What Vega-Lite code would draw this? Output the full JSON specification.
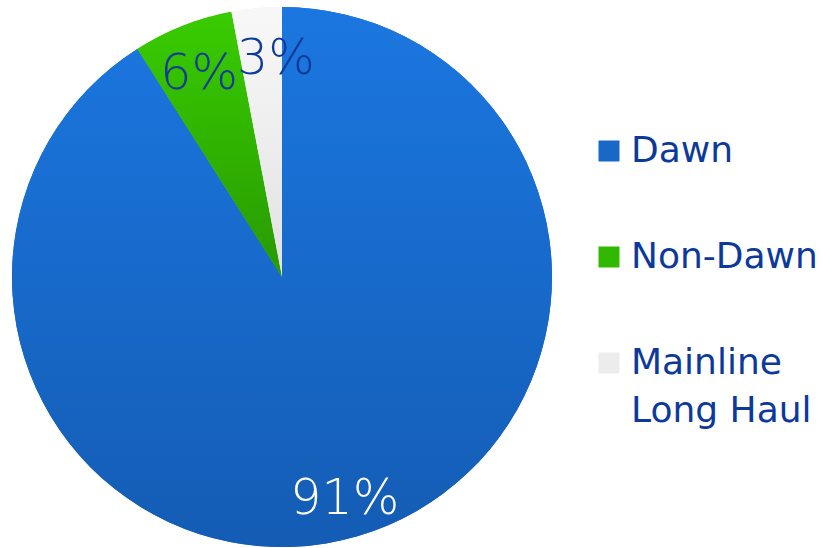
{
  "$schema": "https://vega.github.io/schema/vega-lite/v6.json",
  "width": 564,
  "height": 554,
  "padding": {"left": 0, "top": 0, "right": 261, "bottom": 0},
  "autosize": {"type": "none"},
  "background": "white",
  "config": {"view": {"stroke": null}, "style": {"guide-label": {"lineHeight": 48}}},
  "data": {
    "values": [
      {"cat": "Dawn", "share": 91, "label": "91%", "idx": 1},
      {"cat": "Non-Dawn", "share": 6, "label": "6%", "idx": 2},
      {"cat": "Mainline Long Haul", "share": 3, "label": "3%", "idx": 3}
    ]
  },
  "layer": [
    {
      "transform": [{"stack": "share", "groupby": [], "sort": [{"field": "idx"}], "as": ["s0", "s1"]}],
      "layer": [
        {
          "mark": {"type": "arc", "outerRadius": 270, "stroke": null},
          "encoding": {
            "theta": {"field": "s0", "type": "quantitative", "scale": {"domain": [0, 100]}},
            "theta2": {"field": "s1"},
            "color": {
              "field": "cat",
              "type": "nominal",
              "sort": ["Dawn", "Non-Dawn", "Mainline Long Haul"],
              "scale": {
                "domain": ["Dawn", "Non-Dawn", "Mainline Long Haul"],
                "range": ["#1868c8", "#31b800", "#ececec"]
              },
              "legend": {
                "title": null,
                "orient": "none",
                "legendX": 591,
                "legendY": 133,
                "symbolType": "square",
                "symbolSize": 441,
                "symbolStrokeWidth": 0,
                "symbolOpacity": 1,
                "labelFont": "DejaVu Sans",
                "labelFontSize": 36,
                "labelColor": "#0d3a9a",
                "labelOffset": 4,
                "rowPadding": 70,
                "labelLimit": 300,
                "labelExpr": "datum.label === 'Mainline Long Haul' ? ['Mainline', 'Long Haul'] : datum.label"
              }
            }
          }
        },
        {
          "transform": [{"filter": "datum.cat === 'Dawn'"}],
          "mark": {"type": "arc", "outerRadius": 270, "stroke": null,
            "fill": {"gradient": "linear", "x1": 0, "y1": 0, "x2": 0, "y2": 1, "stops": [{"offset": 0, "color": "#1b77e0"}, {"offset": 1, "color": "#145cb4"}]}},
          "encoding": {
            "theta": {"field": "s0", "type": "quantitative"},
            "theta2": {"field": "s1"}
          }
        },
        {
          "transform": [{"filter": "datum.cat === 'Non-Dawn'"}],
          "mark": {"type": "arc", "outerRadius": 270, "stroke": null,
            "fill": {"gradient": "linear", "x1": 0, "y1": 0, "x2": 0, "y2": 1, "stops": [{"offset": 0, "color": "#39cc00"}, {"offset": 1, "color": "#289a00"}]}},
          "encoding": {
            "theta": {"field": "s0", "type": "quantitative"},
            "theta2": {"field": "s1"}
          }
        },
        {
          "transform": [{"filter": "datum.cat === 'Mainline Long Haul'"}],
          "mark": {"type": "arc", "outerRadius": 270, "stroke": null,
            "fill": {"gradient": "linear", "x1": 0, "y1": 0, "x2": 0, "y2": 1, "stops": [{"offset": 0, "color": "#f8f8f8"}, {"offset": 1, "color": "#e2e2e2"}]}},
          "encoding": {
            "theta": {"field": "s0", "type": "quantitative"},
            "theta2": {"field": "s1"}
          }
        }
      ]
    },
    {
      "mark": {"type": "text", "radius": 225, "font": "DejaVu Sans", "fontWeight": 200, "fontSize": 49, "align": "center", "baseline": "middle", "dy": 6,
        "dx": {"expr": "datum.cat === 'Mainline Long Haul' ? 15 : 0"}},
      "encoding": {
        "theta": {"field": "share", "type": "quantitative", "stack": true},
        "order": {"field": "idx", "type": "quantitative"},
        "text": {"field": "label", "type": "nominal"},
        "color": {"condition": {"test": "datum.cat === 'Dawn'", "value": "#ffffff"}, "value": "#0d3a9a"}
      }
    }
  ]
}
